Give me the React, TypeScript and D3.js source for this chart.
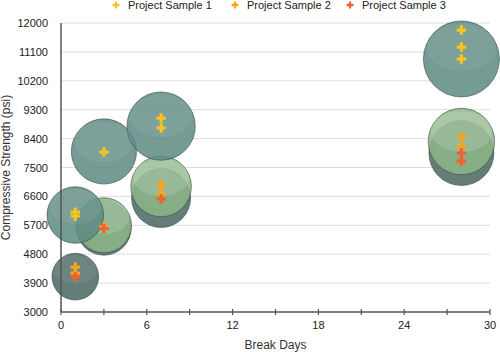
import * as d3 from "d3";
import { useEffect, useRef } from "react";

// ---- data ----
const seriesNames = ["Project Sample 1", "Project Sample 2", "Project Sample 3"];
const breakDays = [1, 3, 7, 28];

// bubble centres (psi), bubble area follows the strength too
const sample1Bubbles = [6020, 8000, 8790, 10880];
const sample2Bubbles = [null, 5700, 6910, 8310];
const sample3Bubbles = [4100, 5620, 6550, 7950];

// individual breaks [day, psi]
const sample1Points: [number, number][] = [
  [1, 6110], [1, 5990], [3, 7980], [7, 9040], [7, 8730], [28, 11780], [28, 11250], [28, 10880],
];
const sample2Points: [number, number][] = [
  [1, 4400], [1, 4210], [3, 5650], [7, 6950], [7, 6700], [28, 8450], [28, 8170],
];
const sample3Points: [number, number][] = [
  [1, 4090], [3, 5600], [7, 6520], [28, 7950], [28, 7700],
];

const yTicks = [3000, 3900, 4800, 5700, 6600, 7500, 8400, 9300, 10200, 11100, 12000];
const xTicks = [0, 3, 6, 9, 12, 15, 18, 21, 24, 27, 30];
const xLabels = [0, 6, 12, 18, 24, 30];

const FONT = "'Liberation Sans', Arial, Helvetica, sans-serif";

export default function App() {
  const ref = useRef<SVGSVGElement | null>(null);

  useEffect(() => {
    if (!ref.current) return;
    const svg = d3.select(ref.current);
    svg.selectAll("*").remove();

    const width = 500;
    const height = 352;

    const x = d3.scaleLinear().domain([0, 30]).range([61, 490]);
    const y = d3.scaleLinear().domain([3000, 12000]).range([312, 23]);
    const r = d3.scaleSqrt().domain([0, 12000]).range([0, 39.9]);

    const bubbleFill = ["#5e8a83", "#8db487", "#4b6863"];
    const markerFill = ["#f7c520", "#f9a424", "#f0632a"];

    svg.attr("width", width).attr("height", height);
    svg.append("rect").attr("width", width).attr("height", height).attr("fill", "#fff");

    /* grid */
    svg
      .append("g")
      .selectAll("line")
      .data(yTicks.filter((d) => d > 3000))
      .enter()
      .append("line")
      .attr("x1", x(0))
      .attr("x2", x(30))
      .attr("y1", (d) => y(d))
      .attr("y2", (d) => y(d))
      .attr("stroke", "#dcdcdc")
      .attr("stroke-width", 1);

    /* y tick labels */
    svg
      .append("g")
      .selectAll("text")
      .data(yTicks)
      .enter()
      .append("text")
      .attr("x", 48)
      .attr("y", (d) => y(d) + 4)
      .attr("text-anchor", "end")
      .style("font-family", FONT)
      .style("font-size", "11px")
      .style("fill", "#222")
      .text((d) => d);

    /* bubbles */
    const bubbleSets = [sample3Bubbles, sample2Bubbles, sample1Bubbles];
    const bubbleColors = [bubbleFill[2], bubbleFill[1], bubbleFill[0]];
    const highlight = [0.06, 0.14, 0.06];
    const bubbleLayer = svg.append("g");
    bubbleSets.forEach((set, si) => {
      const data = breakDays
        .map((day, i) => ({ day, v: set[i] }))
        .filter((d) => d.v !== null) as { day: number; v: number }[];
      const g = bubbleLayer.append("g");
      g.selectAll("circle.b")
        .data(data)
        .enter()
        .append("circle")
        .attr("class", "b")
        .attr("cx", (d) => x(d.day))
        .attr("cy", (d) => y(d.v))
        .attr("r", (d) => r(d.v))
        .attr("fill", bubbleColors[si])
        .attr("fill-opacity", 0.86)
        .attr("stroke", "#3d4f4b")
        .attr("stroke-opacity", 0.8)
        .attr("stroke-width", 0.8);
      // soft highlight on the upper part
      g.selectAll("ellipse")
        .data(data)
        .enter()
        .append("ellipse")
        .attr("cx", (d) => x(d.day))
        .attr("cy", (d) => y(d.v) - r(d.v) * 0.3)
        .attr("rx", (d) => r(d.v) * 0.92)
        .attr("ry", (d) => r(d.v) * 0.62)
        .attr("fill", "#fff")
        .attr("fill-opacity", highlight[si]);
    });

    /* axes */
    svg
      .append("line")
      .attr("x1", x(0))
      .attr("x2", x(0))
      .attr("y1", y(12000))
      .attr("y2", y(3000))
      .attr("stroke", "#555")
      .attr("stroke-width", 1.5);
    svg
      .append("line")
      .attr("x1", x(0))
      .attr("x2", x(30))
      .attr("y1", y(3000))
      .attr("y2", y(3000))
      .attr("stroke", "#555")
      .attr("stroke-width", 1.5);
    svg
      .append("g")
      .selectAll("line")
      .data(xTicks)
      .enter()
      .append("line")
      .attr("x1", (d) => x(d))
      .attr("x2", (d) => x(d))
      .attr("y1", y(3000) - 3)
      .attr("y2", y(3000) + 3)
      .attr("stroke", "#555")
      .attr("stroke-width", 1.2);
    svg
      .append("g")
      .selectAll("text")
      .data(xLabels)
      .enter()
      .append("text")
      .attr("x", (d) => x(d))
      .attr("y", 329)
      .attr("text-anchor", "middle")
      .style("font-family", FONT)
      .style("font-size", "11px")
      .style("fill", "#222")
      .text((d) => d);

    /* markers */
    const cross = d3.symbol().type(d3.symbolCross).size(50);
    [sample1Points, sample2Points, sample3Points].forEach((pts, si) => {
      svg
        .append("g")
        .selectAll("path")
        .data(pts)
        .enter()
        .append("path")
        .attr("d", cross)
        .attr("transform", (d) => `translate(${x(d[0])},${y(d[1])})`)
        .attr("fill", markerFill[si]);
    });

    /* axis titles */
    svg
      .append("text")
      .attr("x", (x(0) + x(30)) / 2)
      .attr("y", 349)
      .attr("text-anchor", "middle")
      .style("font-family", FONT)
      .style("font-size", "12px")
      .style("fill", "#333")
      .text("Break Days");
    svg
      .append("text")
      .attr("transform", `translate(10, ${(y(3000) + y(12000)) / 2}) rotate(-90)`)
      .attr("text-anchor", "middle")
      .style("font-family", FONT)
      .style("font-size", "12px")
      .style("fill", "#333")
      .text("Compressive Strength (psi)");

    /* legend */
    const legendX = [116, 235, 350];
    const small = d3.symbol().type(d3.symbolCross).size(26);
    const lg = svg.append("g");
    seriesNames.forEach((name, i) => {
      lg.append("path")
        .attr("d", small)
        .attr("transform", `translate(${legendX[i]},5)`)
        .attr("fill", markerFill[i]);
      lg.append("text")
        .attr("x", legendX[i] + 12)
        .attr("y", 9)
        .style("font-family", FONT)
        .style("font-size", "11px")
        .style("fill", "#222")
        .text(name);
    });
  }, []);

  return (
    <svg
      ref={ref}
      width={500}
      height={352}
      style={{ position: "absolute", left: 0, top: 0, display: "block" }}
    />
  );
}
